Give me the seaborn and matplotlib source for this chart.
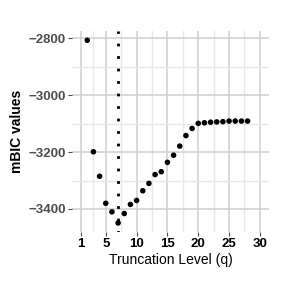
import matplotlib
matplotlib.use("Agg")
import matplotlib.pyplot as plt
import numpy as np
import pandas as pd
import seaborn as sns
from matplotlib.ticker import FixedLocator

# ─── Data ─────────────────────────────────────────────────────────────────────

q_levels = list(range(2, 29))
mbic_values = [-2807, -3199, -3285, -3380, -3410, -3449, -3416, -3384, -3370,
               -3336, -3310, -3279, -3269, -3236, -3211, -3179, -3142, -3117,
               -3099, -3097, -3095, -3094, -3093, -3091, -3091, -3091, -3091]
chosen_q = 7

x_ticks = [1, 5, 10, 15, 20, 25, 30]
x_minor = [3, 7.5, 12.5, 17.5, 22.5, 27.5]
y_ticks = [-2800, -3000, -3200, -3400]
y_minor = [-2900, -3100, -3300]

df = pd.DataFrame({'q': q_levels, 'mbic': mbic_values})

# ─── Plot ─────────────────────────────────────────────────────────────────────

sns.set_theme(style='white')
plt.rcParams['font.family'] = ['Liberation Sans', 'DejaVu Sans']

fig, ax = plt.subplots(figsize=(2.83, 2.83), dpi=100)
fig.subplots_adjust(left=0.255, right=0.95, top=0.89, bottom=0.18)

sns.scatterplot(data=df, x='q', y='mbic', ax=ax, color='black', s=16,
                edgecolor='none', zorder=3)
ax.axvline(chosen_q, color='black', linewidth=2.0, linestyle=(0.5, (1, 3.5)),
           dash_capstyle='butt', zorder=2)

xpad = (30 - 1) * 0.05
ax.set_xlim(1 - xpad, 30 + xpad)
ypad = (max(mbic_values) - min(mbic_values)) * 0.05
ax.set_ylim(min(mbic_values) - ypad, max(mbic_values) + ypad)

ax.xaxis.set_major_locator(FixedLocator(x_ticks))
ax.xaxis.set_minor_locator(FixedLocator(x_minor))
ax.yaxis.set_major_locator(FixedLocator(y_ticks))
ax.yaxis.set_minor_locator(FixedLocator(y_minor))
ax.set_yticklabels([f'\u2212{abs(v)}' for v in y_ticks])

ax.grid(which='major', color='#cfcfcf', linewidth=1.1)
ax.grid(which='minor', color='#e8e8e8', linewidth=1.0)
ax.set_axisbelow(True)
for s in ax.spines.values():
    s.set_visible(False)

ax.tick_params(which='major', length=3, width=0.8, color='#4d4d4d',
               bottom=True, left=True, pad=1.5)
ax.tick_params(which='minor', length=0)
ax.tick_params(axis='x', labelsize=9.5, labelcolor='black')
ax.tick_params(axis='y', labelsize=9.5, labelcolor='#4d4d4d')
for lab in ax.get_xticklabels() + ax.get_yticklabels():
    lab.set_fontweight('bold')

ax.set_xlabel('Truncation Level (q)', fontsize=10, color='black', labelpad=2)
ax.set_ylabel('mBIC values', fontsize=10, fontweight='bold', color='black',
              labelpad=3)

plt.savefig('out.png', dpi=100)
